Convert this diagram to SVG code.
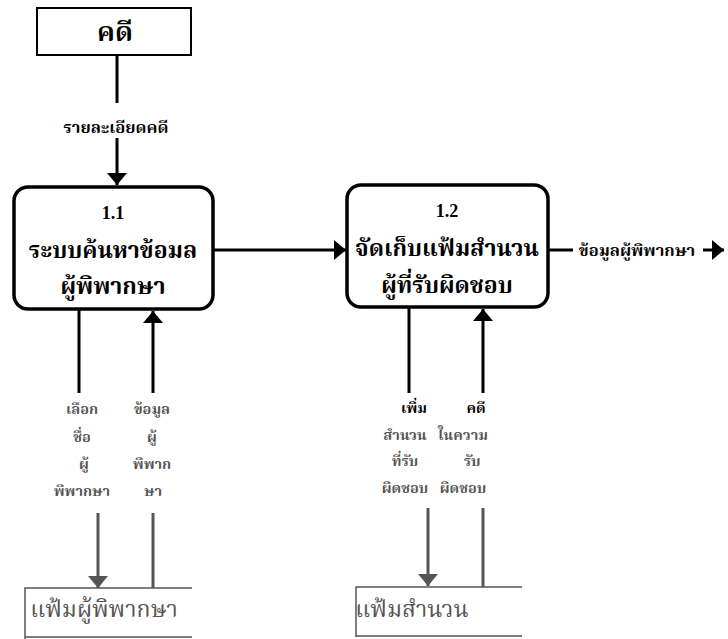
<svg xmlns="http://www.w3.org/2000/svg" width="728" height="639" viewBox="0 0 728 639">
<defs>
<marker id="ahb" viewBox="0 0 12 20" refX="12" refY="10" markerWidth="12" markerHeight="20" markerUnits="userSpaceOnUse" orient="auto">
<path d="M0,0 L12,10 L0,20 Z" fill="#000"/>
</marker>
<marker id="ahg" viewBox="0 0 12 20" refX="12" refY="10" markerWidth="12" markerHeight="20" markerUnits="userSpaceOnUse" orient="auto">
<path d="M0,0 L12,10 L0,20 Z" fill="#555"/>
</marker>
</defs>
<style>
text{font-family:"Noto Serif Thai","Noto Sans Thai","Tlwg Typo","Loma","Garuda","Liberation Serif",serif;text-anchor:middle;}
.box{fill:#fff;stroke:#000;stroke-width:2;}
.proc{fill:#fff;stroke:#000;stroke-width:3.5;}
.t1{font-size:27px;font-weight:bold;fill:#000;}
.pt{font-size:23px;font-weight:bold;fill:#000;}
.num{font-size:18px;font-weight:bold;fill:#000;font-family:"Liberation Serif",serif;}
.lbl{font-size:16.5px;font-weight:bold;fill:#000;}
.lblg{font-size:14.5px;font-weight:bold;fill:#555;}
.ln{stroke:#000;stroke-width:3;fill:none;}
.lng{stroke:#555;stroke-width:3;fill:none;}
.st{stroke:#555;stroke-width:1.5;fill:none;}
.stt{font-size:23px;fill:#555;}
</style>
<g id="connectors">
<line class="ln" x1="117" y1="55" x2="117" y2="103"/>
<line class="ln" x1="117" y1="138" x2="117" y2="185" marker-end="url(#ahb)"/>
<line class="ln" x1="213" y1="250" x2="346" y2="250" marker-end="url(#ahb)"/>
<line class="ln" x1="548" y1="250" x2="573" y2="250"/>
<line class="ln" x1="703" y1="250" x2="724" y2="250" marker-end="url(#ahb)"/>
<line class="ln" x1="79" y1="309" x2="79" y2="393"/>
<line class="ln" x1="153" y1="393" x2="153" y2="311" marker-end="url(#ahb)"/>
<line class="lng" x1="98" y1="513" x2="98" y2="588" marker-end="url(#ahg)"/>
<line class="lng" x1="153" y1="513" x2="153" y2="588"/>
<line class="ln" x1="409" y1="307" x2="409" y2="393"/>
<line class="ln" x1="483" y1="393" x2="483" y2="309" marker-end="url(#ahb)"/>
<line class="lng" x1="428" y1="508" x2="428" y2="586" marker-end="url(#ahg)"/>
<line class="lng" x1="483" y1="508" x2="483" y2="587"/>
<text class="lbl" x="116" y="133">รายละเอียดคดี</text>
<text class="lbl" x="637" y="256">ข้อมูลผู้พิพากษา</text>
<text class="lblg" x="82" y="414">เลือก</text>
<text class="lblg" x="82" y="442">ชื่อ</text>
<text class="lblg" x="84" y="469">ผู้</text>
<text class="lblg" x="82" y="496">พิพากษา</text>
<text class="lblg" x="152" y="414">ข้อมูล</text>
<text class="lblg" x="152" y="442">ผู้</text>
<text class="lblg" x="152" y="469">พิพาก</text>
<text class="lblg" x="153" y="496">ษา</text>
<text class="lbl" x="414" y="413" style="font-size:14.5px">เพิ่ม</text>
<text class="lblg" x="405" y="440">สำนวน</text>
<text class="lblg" x="405" y="466">ที่รับ</text>
<text class="lblg" x="405" y="493">ผิดชอบ</text>
<text class="lbl" x="476" y="413" style="font-size:14.5px">คดี</text>
<text class="lblg" x="463" y="440">ในความ</text>
<text class="lblg" x="472" y="466">รับ</text>
<text class="lblg" x="463" y="493">ผิดชอบ</text>
</g>
<g id="n-kadee">
<rect class="box" x="37" y="8" width="154" height="47"/>
<text class="t1" x="115" y="41">คดี</text>
</g>
<g id="p1-1">
<rect class="proc" x="14" y="187" width="199" height="122" rx="14"/>
<text class="num" x="113" y="219">1.1</text>
<text class="pt" x="113" y="258">ระบบค้นหาข้อมล</text>
<text class="pt" x="113" y="294">ผู้พิพากษา</text>
</g>
<g id="p1-2">
<rect class="proc" x="347" y="185" width="201" height="122" rx="14"/>
<text class="num" x="447" y="217">1.2</text>
<text class="pt" x="447" y="256">จัดเก็บแฟ้มสำนวน</text>
<text class="pt" x="447" y="293">ผู้ที่รับผิดชอบ</text>
</g>
<g id="ds-judge">
<path class="st" d="M192,588 H25 V639 M25,637 H192"/>
<text class="stt" x="104" y="617">แฟ้มผู้พิพากษา</text>
</g>
<g id="ds-case">
<path class="st" d="M522,587 H356 V637 M356,636 H522"/>
<text class="stt" x="412" y="617">แฟ้มสำนวน</text>
</g>
</svg>
